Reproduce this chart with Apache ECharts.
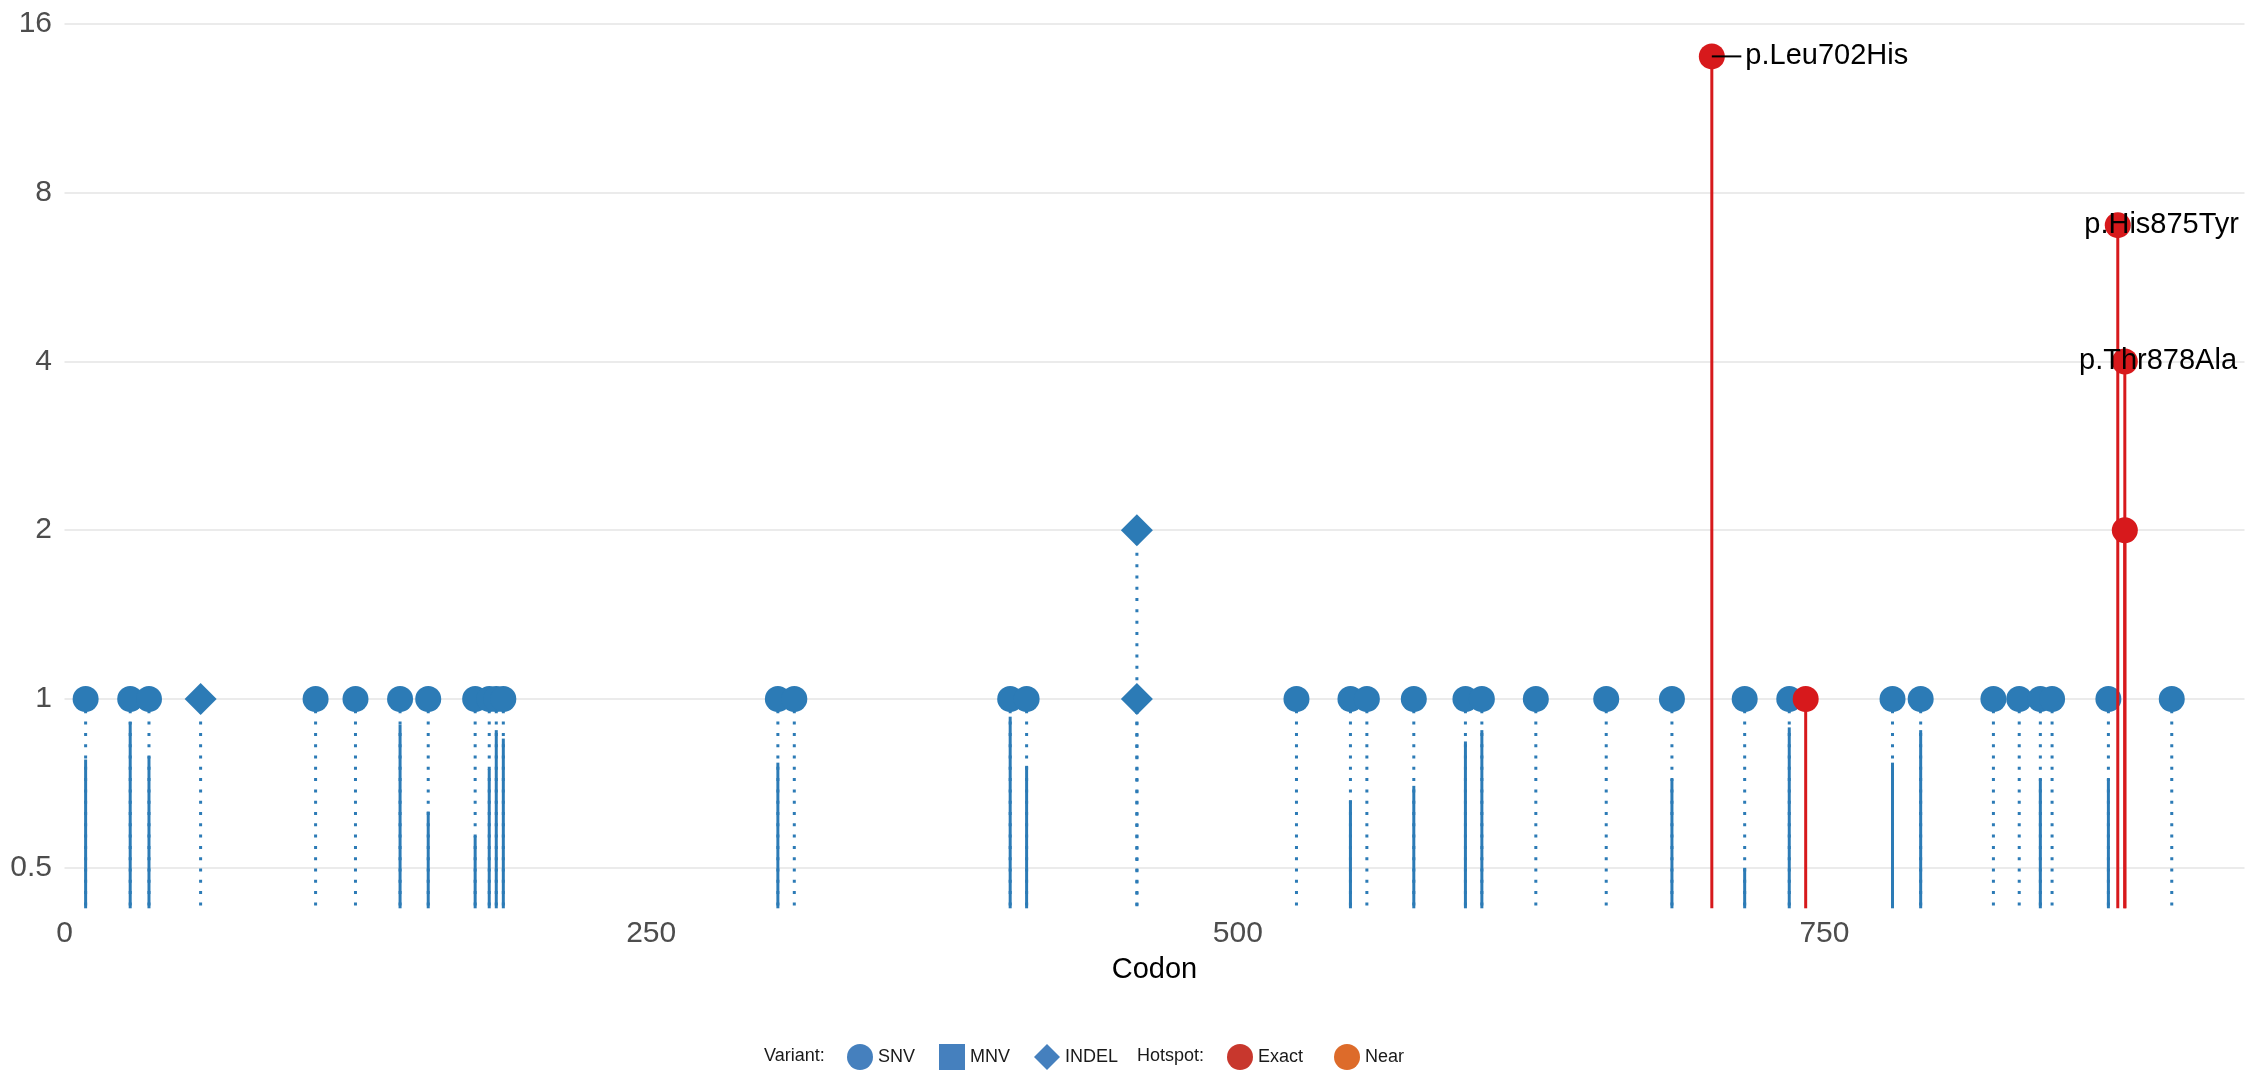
<!DOCTYPE html>
<html>
<head>
<meta charset="utf-8">
<script src="https://cdn.jsdelivr.net/npm/echarts@6/dist/echarts.min.js"></script>
<style>
  html, body { margin: 0; padding: 0; background: #ffffff; }
  #chart { width: 2247px; height: 1078px; }
</style>
</head>
<body>
<div id="chart"></div>
<script>
// ---------------- DATA ----------------
const snvCodons = [9, 28, 36, 107, 124, 143, 155, 175, 181, 184, 187, 304, 311, 403, 410,
  525, 548, 555, 575, 597, 604, 627, 657, 685, 716, 735, 779, 791, 822, 833, 842, 847, 871, 898];
const snvCounts = [1, 1, 1, 1, 1, 1, 1, 1, 1, 1, 1, 1, 1, 1, 1,
  1, 1, 1, 1, 1, 1, 1, 1, 1, 1, 1, 1, 1, 1, 1, 1, 1, 1, 1];
const snvSolid = [0.78, 0.91, 0.79, null, null, 0.90, 0.63, 0.57, 0.75, 0.88, 0.85, 0.77, null, 0.93, 0.76,
  null, 0.66, null, 0.70, 0.84, 0.88, null, null, 0.72, 0.50, 0.89, 0.77, 0.88, null, null, 0.72, null, 0.72, null];

const indelCodons = [58, 457, 457];
const indelCounts = [1, 1, 2];
const indelSolid = [null, null, null];

const hotspotCodons = [702, 742, 875, 878, 878];
const hotspotCounts = [14, 1, 7, 4, 2];

const labelCodons = [702, 875, 878];
const labelCounts = [14, 7, 4];
const labelTexts = ['p.Leu702His', 'p.His875Tyr', 'p.Thr878Ala'];

const xTicks = [0, 250, 500, 750];
const yTicks = [0.5, 1, 2, 4, 8, 16];
const variantLegend = ['SNV', 'MNV', 'INDEL'];
const hotspotLegend = ['Exact', 'Near'];

// ---------------- STYLE ----------------
const FONT = '"Liberation Sans", Arial, Helvetica, sans-serif';
const BLUE = '#2c7bb6';
const RED = '#d7191c';
const Y_MIN = Math.pow(2, -1.24);
const Y_MAX = Math.pow(2, 4.1);
const X_MAX = 929;
const labelStyle = [
  { dx: 33.5, connector: true },
  { dx: -33.5, connector: false },
  { dx: -45.8, connector: false }
];
const legendIcons = { SNV: 'circle', MNV: 'rect', INDEL: 'diamond', Exact: 'circle', Near: 'circle' };
const legendColors = { SNV: '#4580be', MNV: '#4580be', INDEL: '#4580be', Exact: '#c8372d', Near: '#dd6b2a' };

// ---------------- BUILD ----------------
const blueStemData = snvCodons.map((c, i) => [c, snvCounts[i], snvSolid[i] == null ? -1 : snvSolid[i]])
  .concat(indelCodons.map((c, i) => [c, indelCounts[i], indelSolid[i] == null ? -1 : indelSolid[i]]));
const redStemData = hotspotCodons.map((c, i) => [c, hotspotCounts[i], hotspotCounts[i]]);

function stemRenderer(color) {
  return function (params, api) {
    const x = api.value(0), cnt = api.value(1), solid = api.value(2);
    const base = api.coord([x, Y_MIN]);
    const top = api.coord([x, cnt]);
    const children = [];
    if (color === BLUE) {
      children.push({
        type: 'line',
        shape: { x1: top[0], y1: top[1], x2: base[0], y2: base[1] },
        style: { stroke: color, lineWidth: 3, lineDash: [3, 8.3], lineCap: 'butt' }
      });
    }
    if (isFinite(solid) && solid > 0) {
      const st = api.coord([x, solid]);
      children.push({
        type: 'line',
        shape: { x1: base[0], y1: base[1], x2: base[0], y2: st[1] },
        style: { stroke: color, lineWidth: 3, lineCap: 'butt' }
      });
    }
    return { type: 'group', children: children };
  };
}

const labelData = labelCodons.map((c, i) => [c, labelCounts[i], i]);

function legendData(names) {
  return names.map(n => ({ name: n, icon: legendIcons[n], itemStyle: { color: legendColors[n], opacity: 1 } }));
}

const chart = echarts.init(document.getElementById('chart'), null, { renderer: 'canvas' });
chart.setOption({
  animation: false,
  backgroundColor: '#ffffff',
  textStyle: { fontFamily: FONT },
  grid: { left: 64.5, right: 2.5, top: 7, bottom: 169.7 },
  xAxis: {
    type: 'value',
    min: 0,
    max: X_MAX,
    name: 'Codon',
    nameLocation: 'middle',
    nameGap: 47,
    nameTextStyle: { fontSize: 29, color: '#000000', fontFamily: FONT },
    axisLine: { show: false },
    axisTick: { show: false, customValues: xTicks },
    splitLine: { show: false },
    axisLabel: { customValues: xTicks, fontSize: 30, color: '#4d4d4d', margin: 10, fontFamily: FONT }
  },
  yAxis: {
    type: 'log',
    logBase: 2,
    min: Y_MIN,
    max: Y_MAX,
    axisLine: { show: false },
    axisTick: { show: false, customValues: yTicks },
    splitLine: { show: true, lineStyle: { color: '#ebebeb', width: 2 } },
    axisLabel: {
      customValues: yTicks,
      fontSize: 30,
      color: '#4d4d4d',
      margin: 12.5,
      fontFamily: FONT,
      formatter: v => String(+(+v).toPrecision(6))
    }
  },
  legend: [
    {
      left: 847, top: 1044, padding: 0, itemWidth: 26, itemHeight: 26, itemGap: 24,
      selectedMode: false,
      textStyle: { fontSize: 18, color: '#1a1a1a', fontFamily: FONT },
      data: legendData(variantLegend)
    },
    {
      left: 1227, top: 1044, padding: 0, itemWidth: 26, itemHeight: 26, itemGap: 31,
      selectedMode: false,
      textStyle: { fontSize: 18, color: '#1a1a1a', fontFamily: FONT },
      data: legendData(hotspotLegend)
    }
  ],
  graphic: [
    { type: 'text', left: 764, top: 1047, style: { text: 'Variant:', fontSize: 18, fill: '#1a1a1a', fontFamily: FONT } },
    { type: 'text', left: 1137, top: 1047, style: { text: 'Hotspot:', fontSize: 18, fill: '#1a1a1a', fontFamily: FONT } }
  ],
  series: [
    {
      name: 'blueStems', type: 'custom', z: 1, silent: true,
      encode: { x: 0, y: 1 },
      data: blueStemData,
      renderItem: stemRenderer(BLUE)
    },
    {
      name: 'SNV', type: 'scatter', z: 2, silent: true,
      symbol: 'circle', symbolSize: 26,
      itemStyle: { color: BLUE, opacity: 1 },
      data: snvCodons.map((c, i) => [c, snvCounts[i]])
    },
    {
      name: 'MNV', type: 'scatter', z: 2, silent: true,
      symbol: 'rect', symbolSize: 24,
      itemStyle: { color: BLUE, opacity: 1 },
      data: []
    },
    {
      name: 'INDEL', type: 'scatter', z: 2, silent: true,
      symbol: 'diamond', symbolSize: 32,
      itemStyle: { color: BLUE, opacity: 1 },
      data: indelCodons.map((c, i) => [c, indelCounts[i]])
    },
    {
      name: 'redStems', type: 'custom', z: 3, silent: true,
      encode: { x: 0, y: 1 },
      data: redStemData,
      renderItem: stemRenderer(RED)
    },
    {
      name: 'Exact', type: 'scatter', z: 4, silent: true,
      symbol: 'circle', symbolSize: 26,
      itemStyle: { color: RED, opacity: 1 },
      data: hotspotCodons.map((c, i) => [c, hotspotCounts[i]])
    },
    {
      name: 'Near', type: 'scatter', z: 4, silent: true,
      symbol: 'circle', symbolSize: 26,
      itemStyle: { color: '#dd6b2a', opacity: 1 },
      data: []
    },
    {
      name: 'labels', type: 'custom', z: 5, silent: true,
      encode: { x: 0, y: 1 },
      data: labelData,
      renderItem: function (params, api) {
        const p = api.coord([api.value(0), api.value(1)]);
        const idx = api.value(2);
        const st = labelStyle[idx];
        const children = [];
        if (st.connector) {
          children.push({
            type: 'line',
            shape: { x1: p[0], y1: p[1], x2: p[0] + st.dx - 4, y2: p[1] },
            style: { stroke: '#000000', lineWidth: 2 }
          });
        }
        children.push({
          type: 'text',
          x: p[0] + st.dx,
          y: p[1],
          style: {
            text: labelTexts[idx],
            fill: '#000000',
            fontSize: 29,
            fontFamily: FONT,
            align: 'left',
            verticalAlign: 'middle'
          }
        });
        return { type: 'group', children: children };
      }
    }
  ]
});
</script>
</body>
</html>
